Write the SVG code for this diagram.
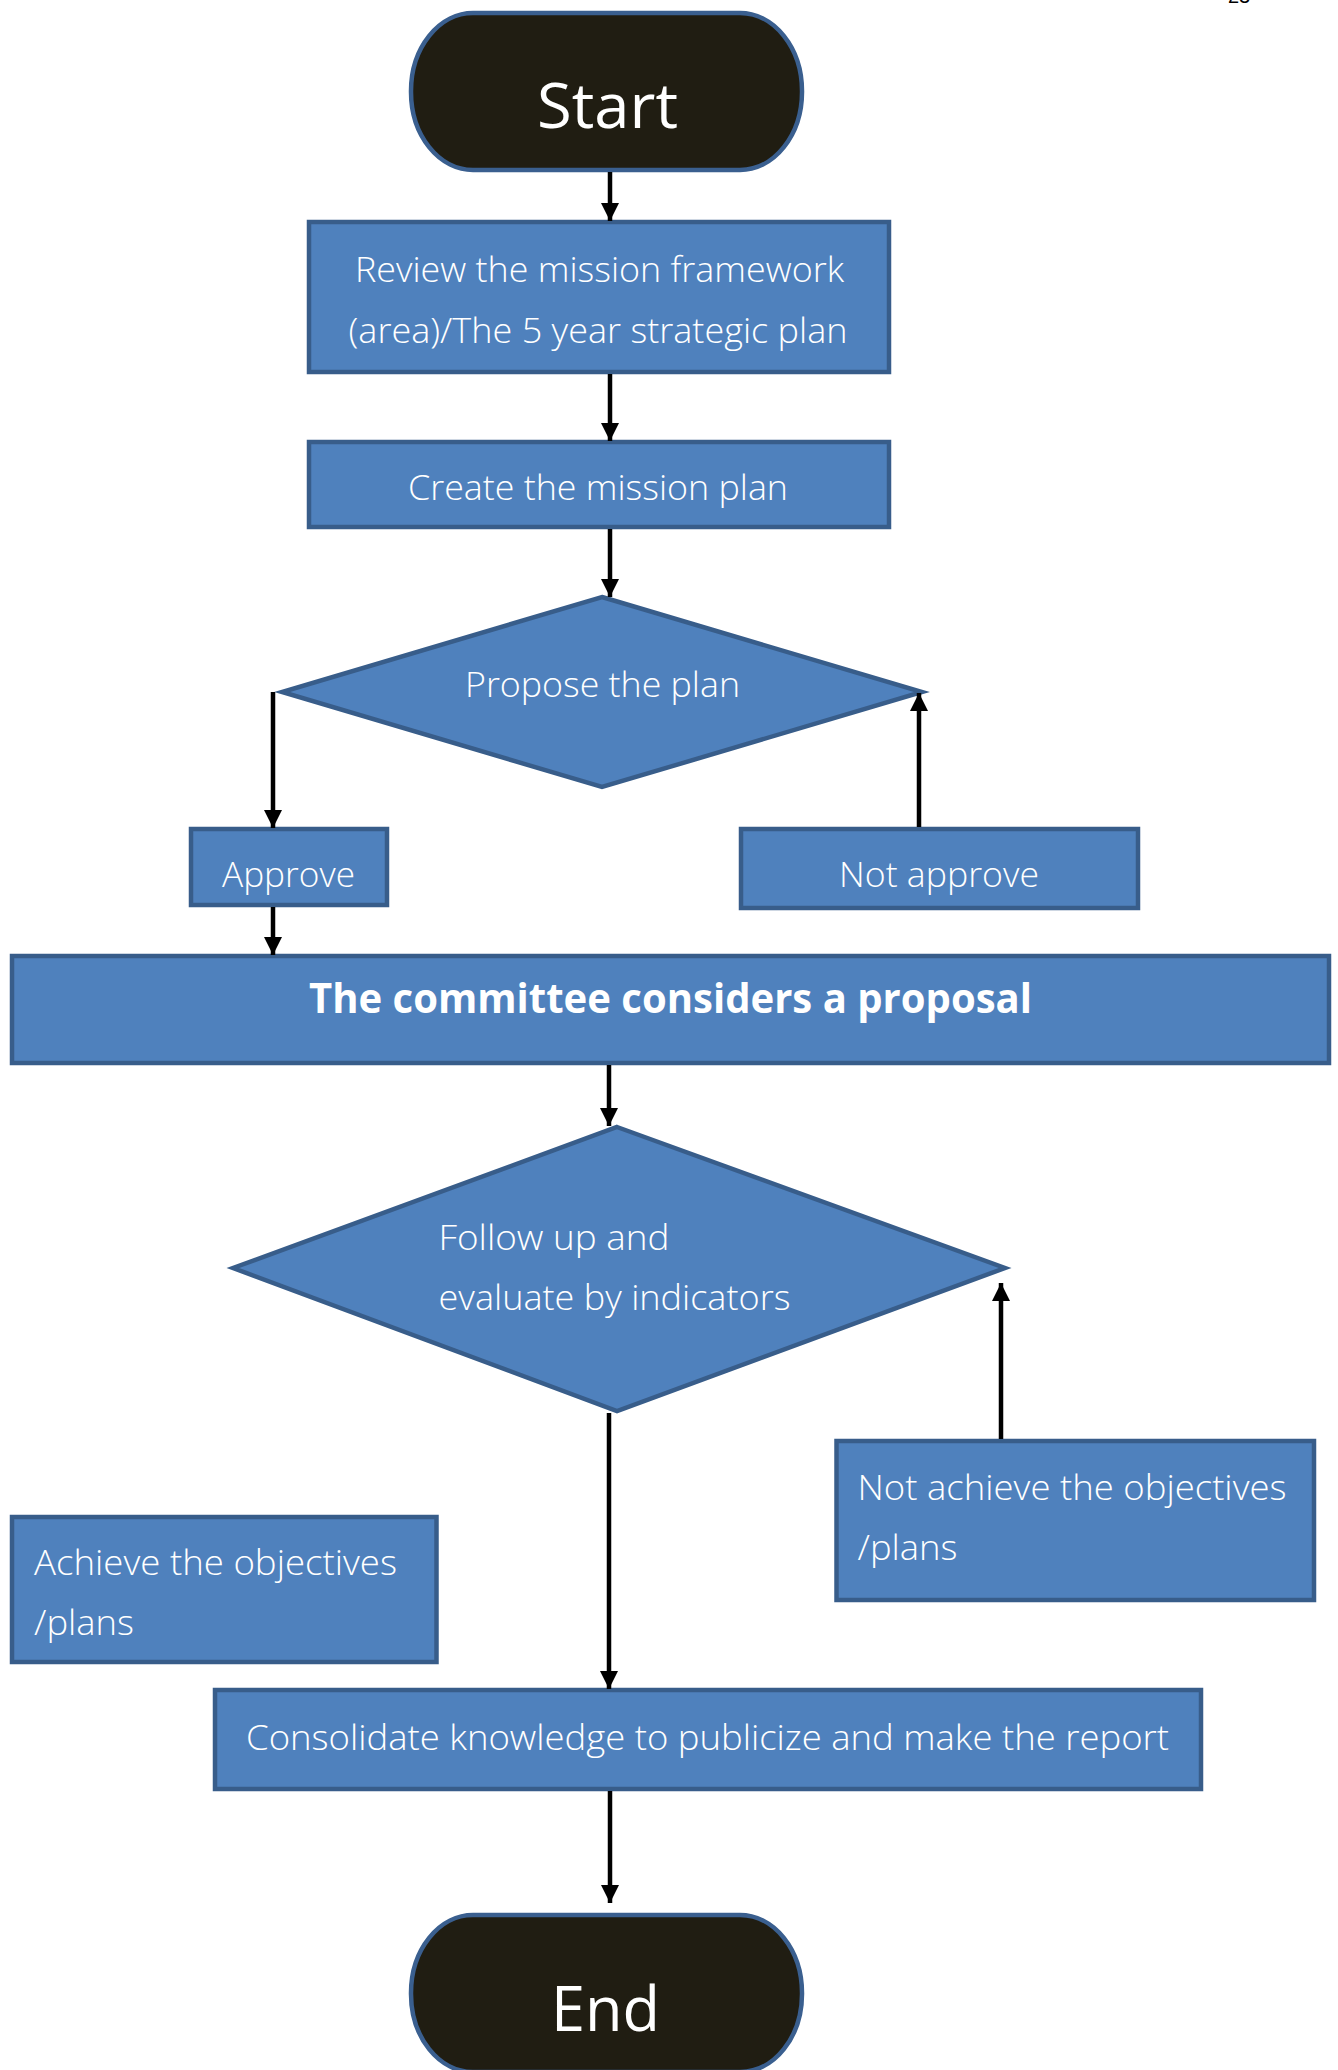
<svg xmlns="http://www.w3.org/2000/svg" width="1338" height="2070" viewBox="0 0 1338 2070">
<defs>
<marker id="ah" viewBox="0 0 10 10" refX="10" refY="5" markerWidth="4" markerHeight="4" orient="auto" markerUnits="strokeWidth">
<path d="M0,0 L10,5 L0,10 z" fill="#000"/>
</marker>
<style>
.box{fill:#4F81BD;stroke:#385D8A;stroke-width:4.5}
.term{fill:#201D12;stroke:#3A5F8F;stroke-width:4.5}
.t{fill:#fff;font-family:"Open Sans","Noto Sans","DejaVu Sans",sans-serif;font-weight:300;font-size:34px}
.tb{fill:#fff;font-family:"Open Sans","Noto Sans","DejaVu Sans",sans-serif;font-weight:700;font-size:41px}
.tt{fill:#fff;font-family:"Open Sans","Noto Sans","DejaVu Sans",sans-serif;font-weight:400;font-size:62px}
.c{fill:none;stroke:#000;stroke-width:4.5;marker-end:url(#ah)}
</style>
</defs>
<rect width="1338" height="2070" fill="#fff"/>
<text x="1228" y="3" font-family="Liberation Sans, sans-serif" font-size="20" fill="#000">23</text>

<g id="start">
<rect class="term" x="411" y="13" width="391" height="157" rx="62" ry="78"/>
<text class="tt" x="607.5" y="128" text-anchor="middle" textLength="141" lengthAdjust="spacingAndGlyphs">Start</text>
</g>
<g id="review">
<rect class="box" x="309" y="222" width="580" height="150"/>
<text class="t" x="599.5" y="282" text-anchor="middle" textLength="489" lengthAdjust="spacingAndGlyphs">Review the mission framework</text>
<text class="t" x="598" y="343" text-anchor="middle" textLength="499" lengthAdjust="spacingAndGlyphs">(area)/The 5 year strategic plan</text>
</g>
<g id="create">
<rect class="box" x="309" y="442" width="580" height="85"/>
<text class="t" x="598" y="500" text-anchor="middle" textLength="380" lengthAdjust="spacingAndGlyphs">Create the mission plan</text>
</g>
<g id="propose">
<polygon class="box" points="602,597 922,692 602,787 282,692"/>
<text class="t" x="602.5" y="697" text-anchor="middle" textLength="275" lengthAdjust="spacingAndGlyphs">Propose the plan</text>
</g>
<g id="approve">
<rect class="box" x="191" y="829" width="196" height="76"/>
<text class="t" x="288.5" y="887" text-anchor="middle" textLength="133" lengthAdjust="spacingAndGlyphs">Approve</text>
</g>
<g id="notapprove">
<rect class="box" x="741" y="829" width="397" height="79"/>
<text class="t" x="939" y="887" text-anchor="middle" textLength="200" lengthAdjust="spacingAndGlyphs">Not approve</text>
</g>
<g id="committee">
<rect class="box" x="12" y="956" width="1317" height="107"/>
<text class="tb" x="670.5" y="1013" text-anchor="middle" textLength="723" lengthAdjust="spacingAndGlyphs">The committee considers a proposal</text>
</g>
<g id="follow">
<polygon class="box" points="617,1127 1005,1268 617,1411 233,1268"/>
<text class="t" x="438.5" y="1250" textLength="231" lengthAdjust="spacingAndGlyphs">Follow up and</text>
<text class="t" x="438.5" y="1310" textLength="352" lengthAdjust="spacingAndGlyphs">evaluate by indicators</text>
</g>
<g id="notachieve">
<rect class="box" x="836.5" y="1441" width="477.5" height="159"/>
<text class="t" x="857.5" y="1500" textLength="429" lengthAdjust="spacingAndGlyphs">Not achieve the objectives</text>
<text class="t" x="857.5" y="1560" textLength="100" lengthAdjust="spacingAndGlyphs">/plans</text>
</g>
<g id="achieve">
<rect class="box" x="12" y="1517" width="424.5" height="145"/>
<text class="t" x="34" y="1575" textLength="363" lengthAdjust="spacingAndGlyphs">Achieve the objectives</text>
<text class="t" x="34" y="1635" textLength="100" lengthAdjust="spacingAndGlyphs">/plans</text>
</g>
<g id="consolidate">
<rect class="box" x="215" y="1690" width="986" height="99"/>
<text class="t" x="246" y="1750" textLength="923" lengthAdjust="spacingAndGlyphs">Consolidate knowledge to publicize and make the report</text>
</g>
<g id="end">
<rect class="term" x="411" y="1915" width="391" height="157" rx="62" ry="78"/>
<text class="tt" x="605.5" y="2031" text-anchor="middle" textLength="109" lengthAdjust="spacingAndGlyphs">End</text>
</g>

<g id="connectors">
<path class="c" d="M610,172 L610,221"/>
<path class="c" d="M610,374 L610,441"/>
<path class="c" d="M610,529 L610,597"/>
<path class="c" d="M273,692 L273,828"/>
<path class="c" d="M919,827 L919,693"/>
<path class="c" d="M273,907 L273,955"/>
<path class="c" d="M609,1065 L609,1126"/>
<path class="c" d="M609,1413 L609,1689"/>
<path class="c" d="M1001,1439 L1001,1283"/>
<path class="c" d="M610,1791 L610,1903"/>
</g>
</svg>
